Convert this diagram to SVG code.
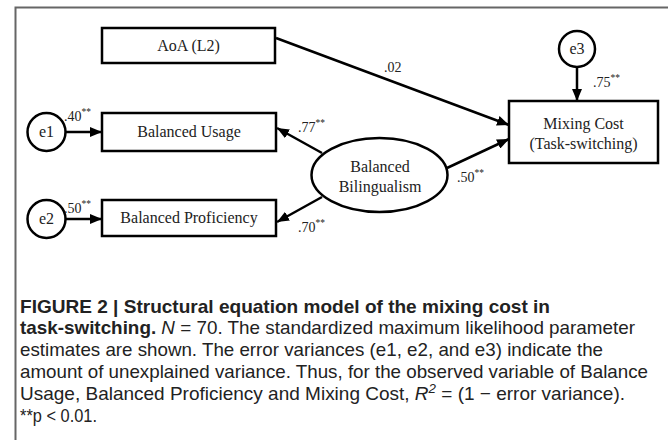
<svg xmlns="http://www.w3.org/2000/svg" width="668" height="440" viewBox="0 0 668 440">
<defs>
<marker id="ah" viewBox="0 0 12 10" refX="12" refY="5" markerWidth="12" markerHeight="10" markerUnits="userSpaceOnUse" orient="auto">
<path d="M0,0 L12,5 L0,10 Z" fill="#000"/>
</marker>
</defs>
<style>
.box{fill:#fff;stroke:#000;stroke-width:2.5}
.lbl{font-family:"Liberation Serif","Times New Roman",serif;font-size:16px;fill:#222;text-anchor:middle}
.coef{font-family:"Liberation Serif","Times New Roman",serif;font-size:14px;fill:#222}
.sup{font-size:9.5px}
.edge{stroke:#000;stroke-width:2.5;fill:none;marker-end:url(#ah)}
.cap{font-family:"Liberation Sans",Arial,sans-serif;font-size:18.5px;fill:#222}
.b{font-weight:bold}
.i{font-style:italic}
</style>
<rect width="668" height="440" fill="#fff"/>
<path d="M15.5,440 V7.5 H668" fill="none" stroke="#666" stroke-width="2"/>

<g id="connectors">
<line class="edge" x1="276" y1="38" x2="509" y2="125"/>
<line class="edge" x1="66" y1="132" x2="102" y2="132"/>
<line class="edge" x1="66" y1="219" x2="102" y2="219"/>
<line class="edge" x1="577" y1="67" x2="577" y2="101"/>
<line class="edge" x1="322" y1="153" x2="277" y2="128"/>
<line class="edge" x1="322" y1="197" x2="277" y2="222"/>
<line class="edge" x1="447" y1="168" x2="509" y2="139"/>
</g>

<g id="aoa"><rect class="box" x="102" y="28" width="173" height="35"/><text class="lbl" x="188.5" y="51">AoA (L2)</text></g>
<g id="usage"><rect class="box" x="102" y="113" width="174" height="38"/><text class="lbl" x="189" y="137">Balanced Usage</text></g>
<g id="proficiency"><rect class="box" x="102" y="200" width="174" height="36"/><text class="lbl" x="189" y="223">Balanced Proficiency</text></g>
<g id="e1"><circle class="box" cx="46.5" cy="132" r="19"/><text class="lbl" x="46.5" y="137">e1</text></g>
<g id="e2"><circle class="box" cx="46.5" cy="219" r="19"/><text class="lbl" x="46.5" y="224">e2</text></g>
<g id="e3"><circle class="box" cx="577" cy="49" r="18"/><text class="lbl" x="577" y="54">e3</text></g>
<g id="bilingualism"><ellipse class="box" cx="379.5" cy="175" rx="68" ry="37"/><text class="lbl" x="380" y="172">Balanced</text><text class="lbl" x="380" y="192">Bilingualism</text></g>
<g id="mixing"><rect class="box" x="509" y="101" width="149" height="62"/><text class="lbl" x="583.5" y="129">Mixing Cost</text><text class="lbl" x="583.5" y="149">(Task-switching)</text></g>

<g id="coefficients">
<text class="coef" x="384" y="72">.02</text>
<text class="coef" x="593" y="87">.75<tspan class="sup" dy="-6">**</tspan></text>
<text class="coef" x="298" y="132">.77<tspan class="sup" dy="-6">**</tspan></text>
<text class="coef" x="298" y="232">.70<tspan class="sup" dy="-6">**</tspan></text>
<text class="coef" x="457" y="182">.50<tspan class="sup" dy="-6">**</tspan></text>
<text class="coef" x="64" y="121">.40<tspan class="sup" dy="-6">**</tspan></text>
<text class="coef" x="64" y="213">.50<tspan class="sup" dy="-6">**</tspan></text>
</g>

<g id="caption">
<text class="cap b" x="20" y="312.5" textLength="530" lengthAdjust="spacingAndGlyphs">FIGURE 2 | Structural equation model of the mixing cost in</text>
<text class="cap" x="20" y="334.3" textLength="615" lengthAdjust="spacingAndGlyphs"><tspan class="b">task-switching.</tspan> <tspan class="i">N</tspan> = 70. The standardized maximum likelihood parameter</text>
<text class="cap" x="20" y="356.1" textLength="583" lengthAdjust="spacingAndGlyphs">estimates are shown. The error variances (e1, e2, and e3) indicate the</text>
<text class="cap" x="20" y="377.9" textLength="628" lengthAdjust="spacingAndGlyphs">amount of unexplained variance. Thus, for the observed variable of Balance</text>
<text class="cap" x="20" y="399.7" textLength="605" lengthAdjust="spacingAndGlyphs">Usage, Balanced Proficiency and Mixing Cost, <tspan class="i">R</tspan><tspan class="i" font-size="13" dy="-7">2</tspan><tspan dy="7"> = (1 − error variance).</tspan></text>
<text class="cap" x="20" y="421.5" textLength="77" lengthAdjust="spacingAndGlyphs">**p &lt; 0.01.</text>
</g>
</svg>
